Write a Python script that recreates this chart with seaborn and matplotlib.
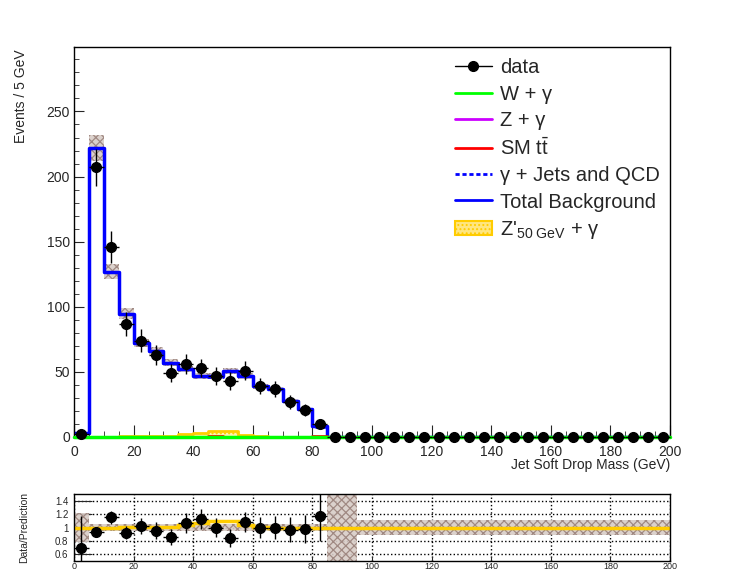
import numpy as np
import pandas as pd
import matplotlib
matplotlib.use('Agg')
import matplotlib.pyplot as plt
from matplotlib.lines import Line2D
from matplotlib.patches import Patch
from matplotlib.ticker import MultipleLocator, FuncFormatter
import seaborn as sns

# binning: 5 GeV bins from 0 to 200
edges = np.arange(0, 205, 5)
centers = edges[:-1] + 2.5

# values
data = [2, 207, 146, 87, 74, 63, 49, 56, 53, 47, 43, 51, 39, 37, 27, 21, 10] + [0] * 23
total_bkg = [2.9, 222, 127, 94.6, 72, 66, 57, 52.5, 47, 47, 51, 47, 39, 37, 28, 21.5, 8.5] + [0] * 23
ttbar = [0] * 9 + [1.0] + [0] * 6 + [0.8] + [0] * 23
wgamma = [0] * 40
zgamma = [0] * 40
signal = [0, 0, 0, 1.0, 0.8, 0.7, 0.6, 2.2, 3.3, 4.4, 4.6, 1.9, 0.5] + [0] * 27
rel_unc = [0.21] + [0.045] * 16 + [1.0, 1.0] + [0.11] * 21

df = pd.DataFrame({'mass': centers, 'data': data, 'total': total_bkg, 'ttbar': ttbar,
                   'wgamma': wgamma, 'zgamma': zgamma, 'signal': signal,
                   'rel_unc': rel_unc})
df['gjets'] = df['total'] - df['ttbar'] - df['wgamma'] - df['zgamma']

sns.set_style('ticks')
plt.rcParams['font.family'] = ['Liberation Sans', 'DejaVu Sans']
plt.rcParams['mathtext.fontset'] = 'custom'
plt.rcParams['mathtext.rm'] = 'Liberation Sans'
plt.rcParams['mathtext.it'] = 'Liberation Sans:italic'
plt.rcParams['hatch.linewidth'] = 0.9
plt.rcParams['axes.edgecolor'] = 'black'
plt.rcParams['axes.linewidth'] = 1.0

BAND_FC = '#d8ccc7'
BAND_EC = '#9a827b'
ORANGE = '#ffcc00'

fig = plt.figure(figsize=(7.46, 5.72), dpi=100, facecolor='white')
ax = fig.add_axes([74 / 746, 1 - 437 / 572, 596 / 746, 390 / 572])
ax2 = fig.add_axes([74 / 746, 1 - 561 / 572, 596 / 746, 67 / 572])


def ext(a):
    a = np.asarray(a, dtype=float)
    return np.append(a, a[-1])


def step_hist(col, color, lw=2, ls='-', axis=ax, **kw):
    sns.histplot(data=df, x='mass', weights=col, bins=list(edges), element='step',
                 fill=False, color=color, linewidth=lw, linestyle=ls, ax=axis, **kw)


# ---- main panel
step_hist('total', '#0000ff', lw=2.5)
step_hist('gjets', '#0000ff', lw=2, ls=':')
step_hist('zgamma', '#cc00ff')
step_hist('ttbar', '#ff0000')

# signal
ax.fill_between(edges, 0, ext(df['signal']), step='post', facecolor='#fff2b0',
                edgecolor=ORANGE, hatch='....', linewidth=0)
step_hist('signal', ORANGE)

# uncertainty band
lo = df['total'] * (1 - df['rel_unc'])
hi = df['total'] * (1 + df['rel_unc'])
ax.fill_between(edges, ext(lo), ext(hi), step='post', facecolor=BAND_FC,
                edgecolor=BAND_EC, hatch='xxxx', linewidth=0, alpha=0.9)

step_hist('wgamma', '#00ff00', lw=2.5, clip_on=False, zorder=5)

ax.errorbar(df['mass'], df['data'], yerr=np.sqrt(df['data']), xerr=2.5, fmt='o',
            color='k', ms=7, elinewidth=1, capsize=0, zorder=10, clip_on=False)

ax.set_xlim(0, 200)
ax.set_ylim(0, 299.5)
ax.xaxis.set_major_locator(MultipleLocator(20))
ax.xaxis.set_minor_locator(MultipleLocator(5))
ax.yaxis.set_major_locator(MultipleLocator(50))
ax.yaxis.set_minor_locator(MultipleLocator(10))
ax.tick_params(which='both', direction='in', top=False, right=False, labelsize=10)
ax.tick_params(axis='x', which='major', length=8.5, pad=6)
ax.tick_params(axis='x', which='minor', length=4.3)
ax.tick_params(axis='y', which='major', length=7, pad=3)
ax.tick_params(axis='y', which='minor', length=3.5)
for s in ax.spines.values():
    s.set_visible(True)
    s.set_color('k')

ax.set_ylabel('Events / 5 GeV', fontsize=10, loc='top')
ax.yaxis.set_label_coords(-0.078, 0.993)
ax.set_xlabel('Jet Soft Drop Mass (GeV)', fontsize=10, loc='right')
ax.xaxis.set_label_coords(1.0, -0.054)

handles = [
    Line2D([], [], color='k', marker='o', ms=7, lw=1),
    Line2D([], [], color='#00ff00', lw=2),
    Line2D([], [], color='#cc00ff', lw=2),
    Line2D([], [], color='#ff0000', lw=2),
    Line2D([], [], color='#0000ff', lw=2, ls=(0, (1.5, 1))),
    Line2D([], [], color='#0000ff', lw=2),
    Patch(facecolor='#ffe680', edgecolor=ORANGE, hatch='....', lw=1.5),
]
labels = ['data', 'W + γ', 'Z + γ', r'SM t$\bar{\mathrm{t}}$', 'γ + Jets and QCD',
          'Total Background', r"Z'$_{\mathrm{50\ GeV}}$ + γ"]
ax.legend(handles, labels, loc='upper left', bbox_to_anchor=(0.632, 0.981),
          frameon=False, fontsize=14.5, handlelength=1.85, handletextpad=0.4,
          labelspacing=0.36, borderpad=0.2, borderaxespad=0)

# ---- ratio panel
has_bkg = df['total'] > 0
bkg_safe = df['total'].where(has_bkg, 1.0)
ratio = df['data'] / bkg_safe
ratio_err = np.sqrt(df['data']) / bkg_safe
sig_ratio = ((df['total'] + df['signal']) / bkg_safe).where(has_bkg, 1.0)

ax2.fill_between(edges, ext(1 - df['rel_unc']), ext(1 + df['rel_unc']), step='post',
                 facecolor=BAND_FC, edgecolor=BAND_EC, hatch='xxxx', linewidth=0,
                 alpha=0.9)
ax2.stairs(sig_ratio.values, edges, color=ORANGE, lw=2.5, baseline=None)
ax2.errorbar(df['mass'][has_bkg], ratio[has_bkg], yerr=ratio_err[has_bkg], xerr=2.5,
             fmt='o', color='k', ms=7, elinewidth=1, capsize=0, zorder=10)

ax2.set_xlim(0, 200)
ax2.set_ylim(0.5, 1.5)
ax2.xaxis.set_major_locator(MultipleLocator(20))
ax2.yaxis.set_major_locator(MultipleLocator(0.2))
ax2.yaxis.set_major_formatter(FuncFormatter(lambda v, p: '%g' % round(v, 2)))
ax2.grid(True, which='major', ls=':', color='k', lw=1)
ax2.tick_params(which='both', direction='in', top=False, right=False, labelsize=7)
ax2.tick_params(axis='x', labelsize=6.5)
ax2.tick_params(axis='y', which='major', length=13, pad=4)
ax2.tick_params(axis='x', which='major', length=3, pad=1)
for s in ax2.spines.values():
    s.set_visible(True)
    s.set_color('k')
ax2.set_ylabel('Data/Prediction', fontsize=7.5)
ax2.yaxis.set_label_coords(-0.075, 0.5)
ax2.set_xlabel('')

fig.savefig('out.png', dpi=100)
